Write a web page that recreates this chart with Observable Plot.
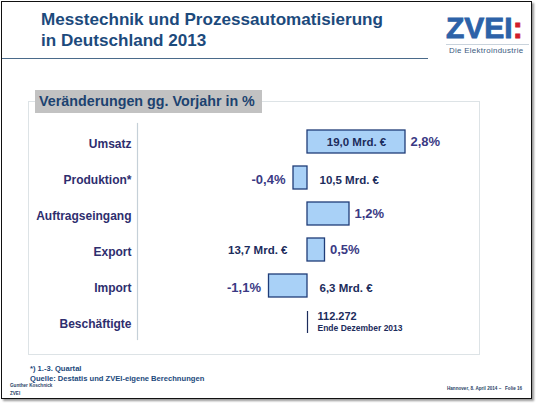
<!DOCTYPE html>
<html>
<head>
<meta charset="utf-8">
<script src="https://cdn.jsdelivr.net/npm/d3@7"></script>
<script src="https://cdn.jsdelivr.net/npm/@observablehq/plot@0.6"></script>
<style>
  html, body { margin: 0; padding: 0; background: #fff; }
  body { width: 536px; height: 404px; position: relative; overflow: hidden; font-family: "Liberation Sans", Arial, sans-serif; }
  .abs { position: absolute; white-space: nowrap; }
  #frame { left: 1px; top: 1px; width: 529px; height: 396px; border: 1.5px solid #111; box-shadow: 2px 2px 2px #999; }
  #title { left: 41px; top: 10px; font-size: 17.1px; line-height: 20.5px; font-weight: bold; color: #1c4a7c; }
  #titleRule { left: 2px; top: 58px; width: 426px; height: 0; border-top: 1.2px solid #4a6a8a; }
  #logo { left: 446px; top: 13px; font-size: 30px; font-weight: bold; color: #2d62a8; letter-spacing: 0px; line-height: 30px; -webkit-text-stroke: 0.8px #2d62a8; }
  #logo span { color: #d0202a; -webkit-text-stroke: 0.8px #d0202a; }
  #logoRule { left: 446px; top: 44px; width: 83px; border-top: 1px solid #c9d3dc; }
  #logoSub { left: 449px; top: 46px; font-size: 7.9px; color: #3a5a80; letter-spacing: 0.3px; }
  #box { left: 28px; top: 101px; width: 450px; height: 252px; border: 1px solid #dde3e6; }
  #head { left: 35px; top: 90px; width: 227px; height: 23px; background: #c2c2c2; }
  #headText { left: 39px; top: 92px; font-size: 14.3px; line-height: 19px; font-weight: bold; color: #1c4270; }
  #chart { left: 0; top: 119px; }
  #note { left: 30px; top: 364px; font-size: 7.6px; line-height: 10px; font-weight: bold; color: #1c4a7c; }
  #author { left: 10px; top: 382px; font-size: 4.6px; line-height: 8px; color: #2a3f66; font-weight: bold; }
  #slide { left: 447px; top: 386px; font-size: 4.6px; color: #2a3f66; font-weight: bold; }
</style>
</head>
<body>
<div id="frame" class="abs"></div>
<div id="title" class="abs">Messtechnik und Prozessautomatisierung<br>in Deutschland 2013</div>
<div id="titleRule" class="abs"></div>
<div id="logo" class="abs">ZVEI<span>:</span></div>
<div id="logoRule" class="abs"></div>
<div id="logoSub" class="abs">Die Elektroindustrie</div>
<div id="box" class="abs"></div>
<div id="head" class="abs"></div>
<div id="headText" class="abs">Veränderungen gg. Vorjahr in %</div>
<div id="chart" class="abs"></div>
<div id="note" class="abs">*) 1.-3. Quartal<br>Quelle: Destatis und ZVEI-eigene Berechnungen</div>
<div id="author" class="abs">Gunther Koschnick<br>ZVEI</div>
<div id="slide" class="abs">Hannover, 8. April 2014 –&nbsp;&nbsp;&nbsp;Folie 16</div>
<script>
// ---- data ----
const categories = ["Umsatz", "Produktion*", "Auftragseingang", "Export", "Import", "Beschäftigte"];
const changePct = [2.8, -0.4, 1.2, 0.5, -1.1, null];
const volumeMrd = [19.0, 10.5, null, 13.7, 6.3, null];
const employees = 112272;
const employeesNote = "Ende Dezember 2013";

const deNum = v => Math.abs(v).toFixed(1).replace(".", ",");
const fmtPct = v => (v < 0 ? "-" : "") + deNum(v) + "%";
const fmtMrd = v => deNum(v) + " Mrd. €";

const rows = categories.map((c, i) => ({ cat: c, pct: changePct[i], vol: volumeMrd[i] }));
const bars = rows.filter(d => d.pct != null);
const posBars = bars.filter(d => d.pct >= 0);
const negBars = bars.filter(d => d.pct < 0);
const vols = rows.filter(d => d.vol != null);
const inside = vols.filter(d => Math.abs(d.pct) > 2);
const volLeft = vols.filter(d => Math.abs(d.pct) <= 2 && d.pct >= 0);
const volRight = vols.filter(d => Math.abs(d.pct) <= 2 && d.pct < 0);
const emp = [{ cat: categories[5], n: employees.toLocaleString("de-DE"), note: employeesNote }];

const pxPerPct = 35, zeroX = 307, W = 536, ML = 137;
const pctStyle = { fontSize: 13, fontWeight: "bold", fill: "#3a3a84" };
const volStyle = { fontSize: 11.5, fontWeight: "bold", fill: "#1c2c5c" };
const chart = Plot.plot({
  width: W, height: 222,
  marginLeft: ML, marginRight: 0, marginTop: 4, marginBottom: 2,
  style: { fontFamily: "Liberation Sans, Arial, sans-serif", background: "transparent", overflow: "visible" },
  x: { domain: [(ML - zeroX) / pxPerPct, (W - zeroX) / pxPerPct], axis: null },
  y: { domain: categories, paddingInner: 0.37, paddingOuter: 0.144, label: null },
  marks: [
    Plot.frame({ anchor: "left", stroke: "#c5d0d8", strokeWidth: 1.2 }),
    Plot.axisY({ tickSize: 0, tickPadding: 6, fontSize: 12, fontWeight: "bold", fill: "#2e2e6e", dy: 2, label: null }),
    Plot.barX(bars, { x1: 0, x2: "pct", y: "cat", fill: "#a9d1f7", stroke: "#1f3c78", strokeWidth: 1.3 }),
    Plot.text(posBars, { x: "pct", y: "cat", text: d => fmtPct(d.pct), textAnchor: "start", dx: 5, ...pctStyle }),
    Plot.text(negBars, { x: "pct", y: "cat", text: d => fmtPct(d.pct), textAnchor: "end", dx: -8, dy: 2, ...pctStyle }),
    Plot.text(inside, { x: d => d.pct / 2, y: "cat", text: d => fmtMrd(d.vol), ...volStyle }),
    Plot.text(volLeft, { x: 0, y: "cat", text: d => fmtMrd(d.vol), textAnchor: "end", dx: -20, ...volStyle }),
    Plot.text(volRight, { x: 0, y: "cat", text: d => fmtMrd(d.vol), textAnchor: "start", dx: 12, dy: 2, ...volStyle }),
    Plot.tickX(emp, { x: 0, y: "cat", stroke: "#1c2c5c", strokeWidth: 1.2, insetTop: 1 }),
    Plot.text(emp, { x: 0, y: "cat", text: "n", textAnchor: "start", dx: 10, dy: -6, fontSize: 11, fontWeight: "bold", fill: "#1c2c5c" }),
    Plot.text(emp, { x: 0, y: "cat", text: "note", textAnchor: "start", dx: 10, dy: 6, fontSize: 8.5, fontWeight: "bold", fill: "#1c2c5c" })
  ]
});
document.getElementById("chart").appendChild(chart);
</script>
</body>
</html>
